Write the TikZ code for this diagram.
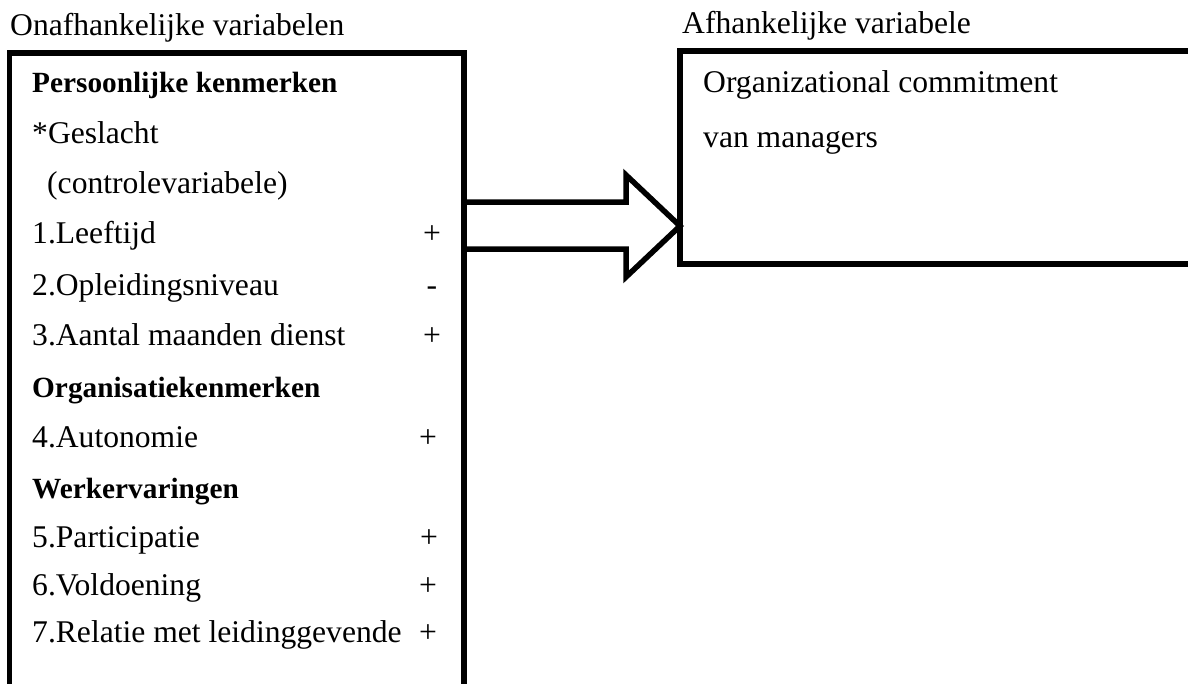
\documentclass[tikz,border=0pt]{standalone}
\usepackage{fontspec}
\setmainfont{Liberation Serif}
\begin{document}
\begin{tikzpicture}[x=1pt,y=-1pt,
        txt/.style={anchor=base west,inner sep=0pt,font=\fontsize{31.6}{37}\selectfont},
        kop/.style={txt,font=\fontsize{29.3}{35}\selectfont\bfseries},
        teken/.style={anchor=base,inner sep=0pt,font=\fontsize{31.6}{37}\selectfont},
        kader/.style={line width=5.5pt,line join=miter}]
        \useasboundingbox (0,0) rectangle (1188,683);

        % titels boven de kaders
        \node[txt] (tonaf) at (10,35) {Onafhankelijke variabelen};
        \node[txt] (tafh) at (682,33) {Afhankelijke variabele};

        % kaders (links onder open, rechts aan de zijkant open)
        \draw[kader] (9.5,700) -- (9.5,53) -- (464,53) -- (464,700);
        \draw[kader] (1200,51) -- (680,51) -- (680,264) -- (1200,264);
        \coordinate (onaf) at (464,226);
        \coordinate (afh) at (680,226);

        % onafhankelijke variabelen
        \node[kop] (pk) at (32,92) {Persoonlijke kenmerken};
        \node[txt] (gesl) at (32,143) {*Geslacht};
        \node[txt] (ctrl) at (47,193) {(controlevariabele)};
        \node[txt] (leeft) at (32,243) {1.Leeftijd};
        \node[teken] (p1) at (432,243) {+};
        \node[txt] (opl) at (32,295) {2.Opleidingsniveau};
        \node[teken] (p2) at (432,295) {-};
        \node[txt] (aant) at (32,345) {3.Aantal maanden dienst};
        \node[teken] (p3) at (432,345) {+};
        \node[kop] (ok) at (32,397) {Organisatiekenmerken};
        \node[txt] (auton) at (32,447) {4.Autonomie};
        \node[teken] (p4) at (428,447) {+};
        \node[kop] (we) at (32,498) {Werkervaringen};
        \node[txt] (part) at (32,547) {5.Participatie};
        \node[teken] (p5) at (429,547) {+};
        \node[txt] (vold) at (32,595) {6.Voldoening};
        \node[teken] (p6) at (428,595) {+};
        \node[txt] (rel) at (32,642) {7.Relatie met leidinggevende};
        \node[teken] (p7) at (428,642) {+};

        % afhankelijke variabele
        \node[txt] (oc) at (703,92) {Organizational commitment};
        \node[txt] (vm) at (703,147) {van managers};

        % blokpijl
        \draw[kader] (onaf) ++(0,-24) -- ++(162,0) -- ++(0,-27) -- (afh)
            -- ++(-54,51) -- ++(0,-28) -- ++(-162,0);
\end{tikzpicture}
\end{document}
